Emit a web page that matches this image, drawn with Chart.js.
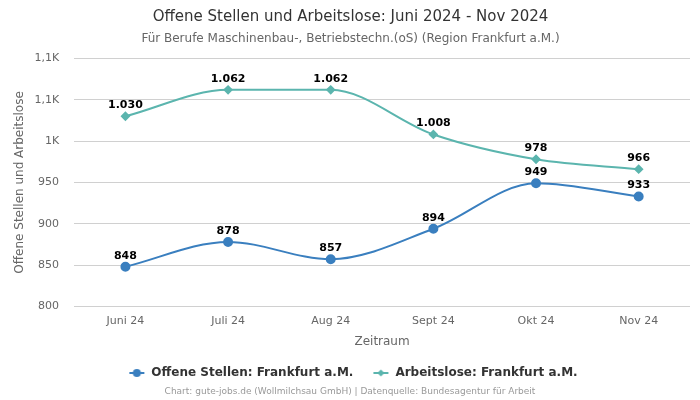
<!DOCTYPE html>
<html>
<head>
<meta charset="utf-8">
<script src="https://cdn.jsdelivr.net/npm/chart.js@4.4.1/dist/chart.umd.min.js"></script>
<style>
  html, body { margin: 0; padding: 0; background: #fff; }
  #wrap { width: 700px; height: 400px; }
</style>
</head>
<body>
<div id="wrap"><canvas id="chart" width="700" height="400"></canvas></div>
<script>
const monate = ['Juni 24', 'Juli 24', 'Aug 24', 'Sept 24', 'Okt 24', 'Nov 24'];
const offeneStellen = [848, 878, 857, 894, 949, 933];
const arbeitslose = [1030, 1062, 1062, 1008, 978, 966];
const yTicks = [800, 850, 900, 950, 1000, 1050, 1100];
const yTickLabels = ['800', '850', '900', '950', '1K', '1,1K', '1,1K'];

const blau = '#3a7fbf';
const tuerkis = '#5bb5ae';
const schrift = 'DejaVu Sans';

Chart.defaults.font.family = schrift;

// kleines Legendensymbol: Linie mit Marker (links etwas Luft als Abstand)
function legendSymbol(farbe, form) {
  const c = document.createElement('canvas');
  c.width = 22; c.height = 10;
  const ctx = c.getContext('2d');
  ctx.strokeStyle = farbe;
  ctx.lineWidth = 2;
  ctx.beginPath(); ctx.moveTo(6, 5); ctx.lineTo(21, 5); ctx.stroke();
  ctx.fillStyle = farbe;
  ctx.beginPath();
  if (form === 'kreis') {
    ctx.arc(13.5, 5, 4, 0, Math.PI * 2);
  } else {
    ctx.moveTo(13.5, 1.5); ctx.lineTo(17, 5); ctx.lineTo(13.5, 8.5); ctx.lineTo(10, 5); ctx.closePath();
  }
  ctx.fill();
  return c;
}

const werteLabels = {
  id: 'werteLabels',
  afterDatasetsDraw(chart) {
    const ctx = chart.ctx;
    ctx.save();
    ctx.font = 'bold 11px ' + schrift;
    ctx.fillStyle = '#000';
    ctx.textAlign = 'center';
    ctx.textBaseline = 'middle';
    chart.data.datasets.forEach((ds, i) => {
      chart.getDatasetMeta(i).data.forEach((pt, j) => {
        ctx.fillText(ds.data[j].toLocaleString('de-DE'), pt.x, pt.y - 11);
      });
    });
    ctx.restore();
  }
};

const quelle = {
  id: 'quelle',
  afterDraw(chart) {
    const ctx = chart.ctx;
    ctx.save();
    ctx.font = '9px ' + schrift;
    ctx.fillStyle = '#999';
    ctx.textAlign = 'center';
    ctx.textBaseline = 'middle';
    ctx.fillText('Chart: gute-jobs.de (Wollmilchsau GmbH) | Datenquelle: Bundesagentur für Arbeit', chart.width / 2, 392);
    ctx.restore();
  }
};

new Chart(document.getElementById('chart'), {
  type: 'line',
  data: {
    labels: monate,
    datasets: [{
      label: 'Offene Stellen: Frankfurt a.M.',
      data: offeneStellen,
      borderColor: blau,
      backgroundColor: blau,
      borderWidth: 2,
      pointStyle: 'circle',
      pointRadius: 4,
      pointHoverRadius: 4,
      cubicInterpolationMode: 'monotone'
    }, {
      label: 'Arbeitslose: Frankfurt a.M.',
      data: arbeitslose,
      borderColor: tuerkis,
      backgroundColor: tuerkis,
      borderWidth: 2,
      pointStyle: 'rectRot',
      pointRadius: 3.5,
      pointHoverRadius: 3.5,
      cubicInterpolationMode: 'monotone'
    }]
  },
  options: {
    responsive: false,
    animation: false,
    layout: { padding: { left: 11, right: 10, bottom: 11 } },
    plugins: {
      title: {
        display: true,
        text: 'Offene Stellen und Arbeitslose: Juni 2024 - Nov 2024',
        color: '#333',
        font: { size: 15, weight: 'normal' },
        padding: { top: 8, bottom: 6 }
      },
      subtitle: {
        display: true,
        text: 'Für Berufe Maschinenbau-, Betriebstechn.(oS) (Region Frankfurt a.M.)',
        color: '#666',
        font: { size: 12 },
        padding: { bottom: 12 }
      },
      legend: {
        position: 'bottom',
        labels: {
          usePointStyle: true,
          pointStyleWidth: 22,
          color: '#333',
          font: { size: 12, weight: 'bold' },
          padding: 14,
          generateLabels(chart) {
            const std = Chart.defaults.plugins.legend.labels.generateLabels(chart);
            std[0].pointStyle = legendSymbol(blau, 'kreis');
            std[1].pointStyle = legendSymbol(tuerkis, 'raute');
            return std;
          }
        }
      },
      tooltip: { enabled: false }
    },
    scales: {
      x: {
        offset: true,
        grid: { display: false },
        border: { display: false },
        ticks: { color: '#666', font: { size: 11 }, padding: 0 },
        title: { display: true, text: 'Zeitraum', color: '#666', font: { size: 12 }, padding: { top: 7 } }
      },
      y: {
        min: 800,
        max: 1100,
        afterBuildTicks(axis) { axis.ticks = yTicks.map(v => ({ value: v })); },
        grid: { color: '#d0d0d0', drawTicks: false },
        border: { display: false },
        ticks: {
          color: '#666',
          font: { size: 11 },
          padding: 15,
          callback(value) { return yTickLabels[yTicks.indexOf(value)]; }
        },
        title: { display: true, text: 'Offene Stellen und Arbeitslose', color: '#666', font: { size: 12 }, padding: { top: 2, bottom: -8 } }
      }
    }
  },
  plugins: [werteLabels, quelle]
});
</script>
</body>
</html>
